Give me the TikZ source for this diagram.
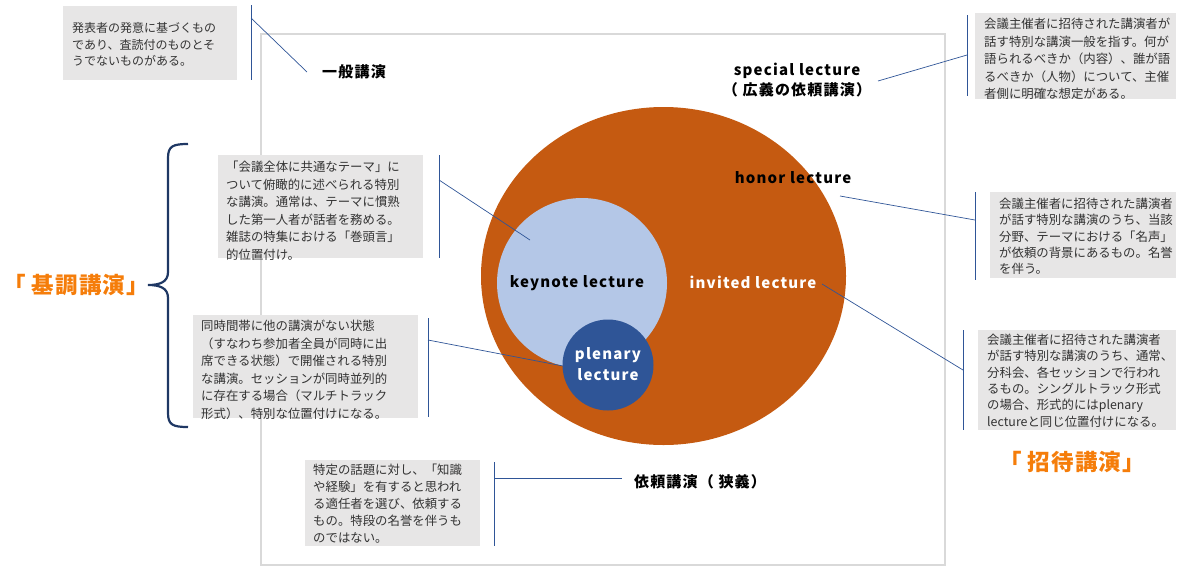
\documentclass[tikz,border=0pt]{standalone}
\usepackage{fontspec}
\newfontfamily\jp{Noto Sans CJK JP}
\usetikzlibrary{shapes.geometric}
\definecolor{orangeE}{HTML}{C55A11}
\definecolor{lblue}{HTML}{B4C7E7}
\definecolor{dblue}{HTML}{2F5597}
\definecolor{navy}{HTML}{1F3864}
\definecolor{boxgray}{HTML}{E7E6E6}
\definecolor{framegray}{HTML}{D9D9D9}
\definecolor{lineblue}{HTML}{2F5597}
\definecolor{brorange}{RGB}{245,125,10}
\tikzset{
  box/.style={fill=boxgray, draw=none, anchor=north west, inner sep=0pt},
  boxtext/.style={anchor=north west, inner sep=0pt, align=left, font=\jp\fontsize{12.4}{17.5}\selectfont, text=black!80},
  tightbox/.style={boxtext, font=\jp\fontsize{12.4}{16.3}\selectfont},
  lbl/.style={inner sep=0pt, align=center, font=\jp\bfseries\fontsize{15}{20}\selectfont\addfontfeature{LetterSpace=8}},
  big/.style={inner sep=0pt, font=\jp\bfseries\fontsize{22.5}{26}\selectfont\addfontfeature{LetterSpace=5}, text=brorange},
  lead/.style={draw=lineblue, line width=0.7pt},
}
\begin{document}
\begin{tikzpicture}[x=1pt,y=-1pt]
\useasboundingbox (0,0) rectangle (1188,566);
% outer frame
\draw[framegray, line width=2pt] (261,34) rectangle (945,565);
% circles
\node[ellipse, fill=orangeE, minimum width=365pt, minimum height=338pt, inner sep=0pt] (inv) at (663.5,276) {};
\node[circle, fill=lblue, minimum size=170pt, inner sep=0pt] (key) at (582,283) {};
\node[circle, fill=dblue, minimum size=91pt, inner sep=0pt] (ple) at (608,365) {};
% circle labels
\node[lbl] (tkey) at (577,283) {keynote lecture};
\node[lbl, text=white] (tinv) at (753,282) {invited lecture};
\node[lbl, text=white, align=center] (tple) at (608,364) {plenary\\[1pt]lecture};
\node[lbl] (thon) at (793,178) {honor lecture};
\node[lbl] (tspe) at (797,80) {special lecture\\（ 広義の依頼講演）};
\node[lbl] (tgen) at (354,72) {一般講演};
\node[lbl] (tnar) at (700,482) {依頼講演（ 狭義）};
% big labels
\node[big] (tkicho) at (76,285) {「 基調講演」};
\node[big] (tshotai) at (1072,462) {「 招待講演」};
% brace
\draw[navy, line width=2.2pt] (188,144) .. controls (173,144) and (168,146) .. (168,158) -- (168,272) .. controls (168,282) and (160,285) .. (148,285) .. controls (160,285) and (168,288) .. (168,298) -- (168,413) .. controls (168,425) and (173,427) .. (188,427);
% boxes
\node[box, minimum width=174pt, minimum height=74pt] (b1) at (63,6) {};
\node[boxtext, font=\jp\fontsize{12}{16.8}\selectfont] (x1) at (72,22) {発表者の発意に基づくもの\\であり、査読付のものとそ\\うでないものがある。};
\node[box, minimum width=201pt, minimum height=86pt] (b2) at (975,13) {};
\node[boxtext] (x2) at (984,18) {会議主催者に招待された講演者が\\話す特別な講演一般を指す。何が\\語られるべきか（内容）、誰が語\\るべきか（人物）について、主催\\者側に明確な想定がある。};
\node[box, minimum width=205pt, minimum height=103pt] (b3) at (218,155) {};
\node[boxtext] (x3) at (226,161) {「会議全体に共通なテーマ」に\\ついて俯瞰的に述べられる特別\\な講演。通常は、テーマに慣熟\\した第一人者が話者を務める。\\雑誌の特集における「巻頭言」\\的位置付け。};
\node[box, minimum width=186pt, minimum height=86pt] (b4) at (990,192) {};
\node[tightbox] (x4) at (999,198) {会議主催者に招待された講演者\\が話す特別な講演のうち、当該\\分野、テーマにおける「名声」\\が依頼の背景にあるもの。名誉\\を伴う。};
\node[box, minimum width=225pt, minimum height=103pt] (b5) at (193,315) {};
\node[boxtext] (x5) at (201,320) {同時間帯に他の講演がない状態\\（すなわち参加者全員が同時に出\\席できる状態）で開催される特別\\な講演。セッションが同時並列的\\に存在する場合（マルチトラック\\形式）、特別な位置付けになる。};
\node[box, minimum width=198pt, minimum height=100pt] (b6) at (978,330) {};
\node[tightbox] (x6) at (987,334) {会議主催者に招待された講演者\\が話す特別な講演のうち、通常、\\分科会、各セッションで行われ\\るもの。シングルトラック形式\\の場合、形式的にはplenary\\lectureと同じ位置付けになる。};
\node[box, minimum width=175pt, minimum height=86pt] (b7) at (305,460) {};
\node[boxtext, font=\jp\fontsize{12.4}{17}\selectfont] (x7) at (313,464) {特定の話題に対し、「知識\\や経験」を有すると思われ\\る適任者を選び、依頼する\\もの。特段の名誉を伴うも\\のではない。};
% callout accent bars and leaders
\coordinate (a1t) at (251,5); \coordinate (a1b) at (251,80); \coordinate (a1) at (251,18); \coordinate (e1) at (307,72);
\coordinate (a2t) at (967,15); \coordinate (a2b) at (967,96); \coordinate (a2) at (967,55); \coordinate (e2) at (878,81);
\coordinate (a3t) at (439,155); \coordinate (a3b) at (439,258); \coordinate (a3) at (439,180); \coordinate (e3) at (530,240);
\coordinate (a4t) at (975,192); \coordinate (a4b) at (975,280); \coordinate (a4) at (975,220); \coordinate (e4) at (840,196);
\coordinate (a5t) at (428,318); \coordinate (a5b) at (428,417); \coordinate (a5) at (428,340); \coordinate (e5) at (563,366);
\coordinate (a6t) at (963,330); \coordinate (a6b) at (963,430); \coordinate (a6) at (963,370); \coordinate (e6) at (822,284);
\coordinate (a7t) at (494,462); \coordinate (a7b) at (494,546); \coordinate (a7) at (494,478); \coordinate (e7) at (622,478);
\foreach \i in {1,...,7}{
  \draw[lead] (a\i t) -- (a\i b);
  \draw[lead] (a\i) -- (e\i);
}
\end{tikzpicture}
\end{document}
